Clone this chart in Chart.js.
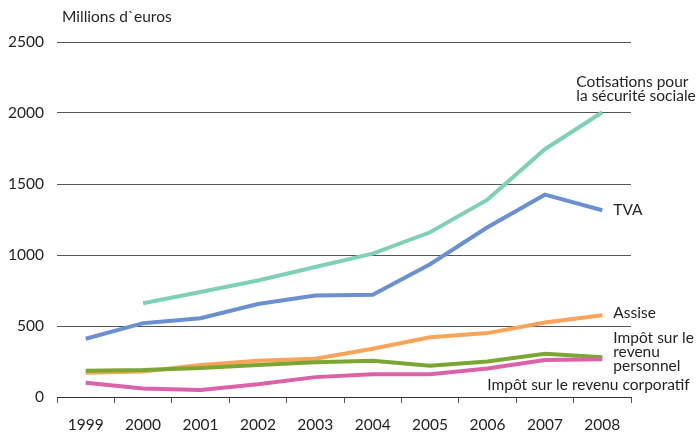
<!DOCTYPE html>
<html>
<head>
<meta charset="utf-8">
<script src="https://cdn.jsdelivr.net/npm/chart.js@4"></script>
<style>
  html, body { margin: 0; padding: 0; background: #fff; }
  #wrap { position: relative; width: 699px; height: 434px; }
</style>
</head>
<body>
<div id="wrap"><canvas id="taxes" width="699" height="434"></canvas></div>
<script>
const years = ['1999', '2000', '2001', '2002', '2003', '2004', '2005', '2006', '2007', '2008'];
const cotisations = [null, 660, 740, 820, 915, 1010, 1160, 1390, 1745, 2005];
const tva = [410, 520, 555, 655, 715, 720, 935, 1195, 1425, 1315];
const assise = [170, 180, 225, 255, 270, 340, 420, 450, 525, 575];
const impotPersonnel = [185, 190, 205, 225, 245, 255, 220, 250, 305, 280];
const impotCorporatif = [100, 60, 50, 90, 140, 160, 160, 200, 260, 265];
const yTicks = [0, 500, 1000, 1500, 2000, 2500];

const FONT = 'Lato, "Open Sans", sans-serif';
const TXT = '#231f20';

// series labels, placed next to the last point of each line
const seriesLabels = [
  { data: cotisations, lines: ['Cotisations pour', 'la sécurité sociale'], dx: -26, dy: -30 },
  { data: tva, lines: ['TVA'], dx: 11, dy: 0 },
  { data: assise, lines: ['Assise'], dx: 11, dy: -2 },
  { data: impotPersonnel, lines: ['Impôt sur le', 'revenu', 'personnel'], dx: 11, dy: -19 },
  { data: impotCorporatif, lines: ['Impôt sur le revenu corporatif'], dx: -115, dy: 26 }
];

const labelPlugin = {
  id: 'labels',
  afterDatasetsDraw(chart) {
    const c = chart.ctx;
    const x = chart.scales.x, y = chart.scales.y;
    c.save();
    c.font = '15.5px ' + FONT;
    c.fillStyle = TXT;
    c.textAlign = 'left';
    c.textBaseline = 'middle';
    seriesLabels.forEach(function (s) {
      const last = s.data.length - 1;
      const px = x.getPixelForValue(last) + s.dx;
      const py = y.getPixelForValue(s.data[last]) + s.dy;
      s.lines.forEach(function (t, i) {
        c.fillText(t, px, py + i * 14);
      });
    });
    c.fillText('Millions d`euros', 62, 17);
    c.restore();
  }
};

const ctx = document.getElementById('taxes').getContext('2d');

function line(data, color) {
  return {
    data: data,
    borderColor: color,
    borderWidth: 4,
    pointRadius: 0,
    tension: 0,
    fill: false,
    spanGaps: false
  };
}

new Chart(ctx, {
  type: 'line',
  data: {
    labels: years,
    datasets: [
      line(impotCorporatif, '#db62a8'),
      line(impotPersonnel, '#7aa733'),
      line(assise, '#f9a45a'),
      line(tva, '#6a90d0'),
      line(cotisations, '#7fd0b8')
    ]
  },
  options: {
    responsive: false,
    animation: false,
    layout: { padding: { top: 42, right: 68, left: 0, bottom: 0 } },
    plugins: {
      legend: { display: false },
      tooltip: { enabled: false }
    },
    scales: {
      x: {
        offset: true,
        afterFit: function (s) { s.height = 37; },
        grid: {
          offset: true,
          drawOnChartArea: false,
          drawTicks: true,
          tickLength: 6,
          color: '#555'
        },
        border: { display: true, color: '#333', width: 1 },
        ticks: {
          color: TXT,
          font: { family: FONT, size: 15.5 },
          padding: 13,
          maxRotation: 0
        }
      },
      y: {
        min: 0,
        max: 2500,
        afterFit: function (s) { s.width = 57; },
        afterBuildTicks: function (s) { s.ticks = yTicks.map(v => ({ value: v })); },
        grid: { color: '#555', lineWidth: 1, drawTicks: false },
        border: { display: false },
        ticks: {
          color: TXT,
          font: { family: FONT, size: 15.5 },
          padding: 13,
          callback: function (v) { return String(v); }
        }
      }
    }
  },
  plugins: [labelPlugin]
});
</script>
</body>
</html>
